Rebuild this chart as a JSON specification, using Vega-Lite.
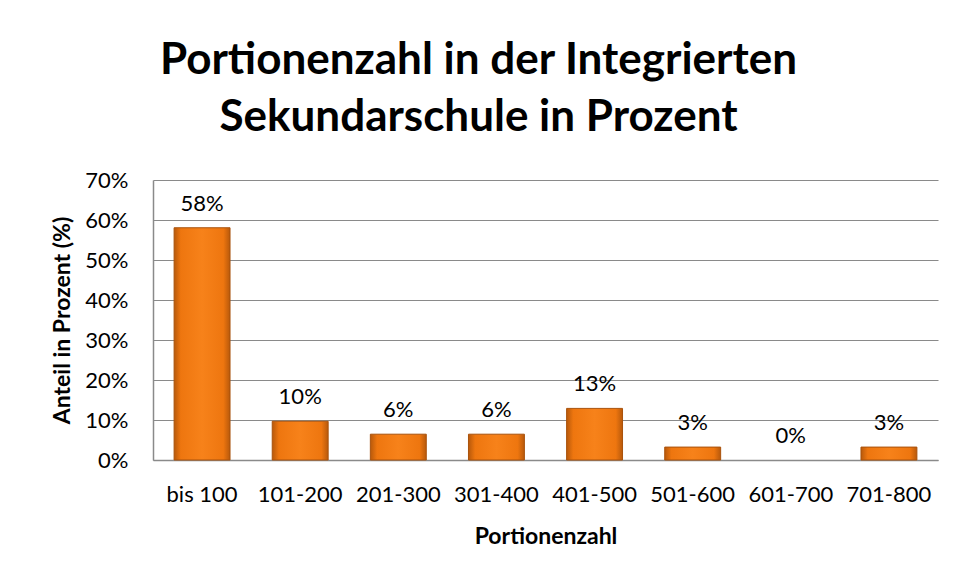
{
  "$schema": "https://vega.github.io/schema/vega-lite/v6.json",
  "width": 785,
  "height": 280,
  "autosize": {"type": "none"},
  "padding": {"left": 153, "top": 180, "right": 23, "bottom": 115},
  "background": "white",
  "title": {
    "text": ["Portionenzahl in der Integrierten", "Sekundarschule in Prozent"],
    "font": "Lato",
    "fontSize": 44,
    "fontWeight": "bold",
    "color": "black",
    "lineHeight": 57,
    "anchor": "middle",
    "dx": -67,
    "baseline": "alphabetic",
    "offset": -6
  },
  "data": {
    "values": [
      {"kategorie": "bis 100", "anteil": 0.5806},
      {"kategorie": "101-200", "anteil": 0.0968},
      {"kategorie": "201-300", "anteil": 0.0645},
      {"kategorie": "301-400", "anteil": 0.0645},
      {"kategorie": "401-500", "anteil": 0.129},
      {"kategorie": "501-600", "anteil": 0.0323},
      {"kategorie": "601-700", "anteil": 0.0},
      {"kategorie": "701-800", "anteil": 0.0323}
    ]
  },
  "encoding": {
    "x": {
      "field": "kategorie",
      "type": "nominal",
      "sort": null,
      "scale": {
        "domain": ["bis 100", "101-200", "201-300", "301-400", "401-500", "501-600", "601-700", "701-800"],
        "paddingInner": 0.43,
        "paddingOuter": 0.215
      },
      "axis": {
        "title": "Portionenzahl",
        "labelAngle": 0,
        "ticks": false,
        "labelPadding": 24,
        "titlePadding": 20
      }
    },
    "y": {
      "field": "anteil",
      "type": "quantitative",
      "scale": {"domain": [0, 0.7]},
      "axis": {
        "title": "Anteil in Prozent (%)",
        "format": ".0%",
        "values": [0, 0.1, 0.2, 0.3, 0.4, 0.5, 0.6, 0.7],
        "ticks": false,
        "labelPadding": 25,
        "titlePadding": 10
      }
    }
  },
  "layer": [
    {
      "transform": [{"filter": "datum.anteil > 0"}],
      "mark": {
        "type": "bar",
        "stroke": "#a9520c",
        "strokeWidth": 1,
        "color": {
          "gradient": "linear",
          "x1": 0, "x2": 1, "y1": 0, "y2": 0,
          "stops": [
            {"offset": 0, "color": "#b8590b"},
            {"offset": 0.12, "color": "#ee760f"},
            {"offset": 0.5, "color": "#f7821a"},
            {"offset": 0.88, "color": "#ee760f"},
            {"offset": 1, "color": "#b8590b"}
          ]
        }
      }
    },
    {
      "mark": {
        "type": "text",
        "dy": -17,
        "baseline": "alphabetic",
        "font": "Lato",
        "fontSize": 22,
        "color": "black"
      },
      "encoding": {
        "text": {"field": "anteil", "type": "quantitative", "format": ".0%"}
      }
    }
  ],
  "config": {
    "view": {"stroke": null},
    "axis": {
      "labelFont": "Lato",
      "labelFontSize": 22,
      "labelColor": "black",
      "titleFont": "Lato",
      "titleFontSize": 23,
      "titleFontWeight": "bold",
      "titleColor": "black",
      "domainColor": "#8a8a8a",
      "domainWidth": 1.5,
      "gridColor": "#8a8a8a",
      "gridWidth": 1.2
    },
    "axisX": {"grid": false},
    "axisY": {"grid": true}
  }
}
